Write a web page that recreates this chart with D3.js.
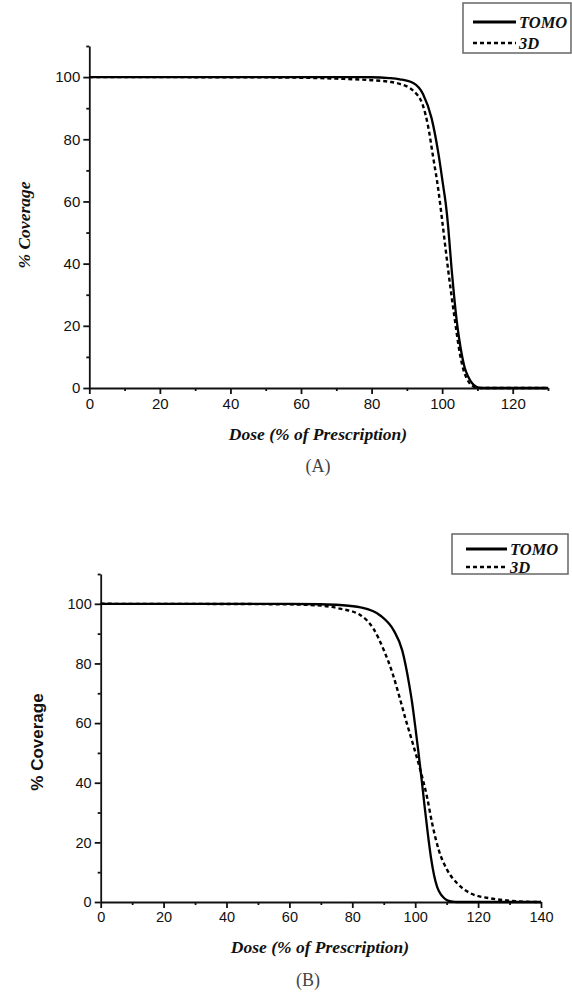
<!DOCTYPE html>
<html>
<head>
<meta charset="utf-8">
<script src="https://cdn.jsdelivr.net/npm/d3@7"></script>
<style>
  body { margin: 0; background: #fff; }
  svg { display: block; }
  .tick text { font-family: "Liberation Sans", Arial, sans-serif; fill: #111; }
</style>
</head>
<body>
<svg id="chart" width="572" height="994"></svg>
<script>
'use strict';

// Panel A: DVH curves, [dose %, coverage %]
const tomoA = [[0,100],[40,100],[80,99.95],[85,99.7],[88,99.3],[91.8,98.1],[94.6,94.5],[97,86.8],
  [98.9,75.7],[100.3,65],[101,59.5],[101.7,52],[102.2,45],[102.7,38],[103.4,29.5],[104.1,21.9],
  [104.8,16],[105.5,11.2],[106.4,6.5],[107.4,3.6],[108.5,1.5],[109.7,0.4],[111,0],[130,0]];
const threeDA = [[0,100],[40,99.95],[60,99.8],[70,99.5],[80,99],[85,98.5],[88,97.8],[91.8,95.6],
  [94.6,90.7],[96,84.3],[97.4,74.6],[98.9,63.9],[100.1,53],[101.7,38],[103.6,21.9],[105,11.2],
  [106,6],[107,3],[108,1.2],[109,0.4],[110,0.1],[111,0],[130,0]];

// Panel B
const tomoB = [[0,100],[60,99.95],[70,99.85],[76,99.6],[82.6,98.8],[89,96],[93.2,91],[95.9,84.3],
  [98,73.5],[99,67],[100,59],[101,50.5],[102,41.5],[103,32],[104,23],[105,15],[106,9],[107,5],
  [108,2.8],[109,1.5],[110,0.7],[111,0.3],[112,0.1],[113,0],[140,0]];
const threeDB = [[0,100],[40,99.95],[60,99.8],[70,99.4],[76,98.4],[82.6,96.2],[86.8,91.5],[90,84.5],
  [92.7,77],[94.8,69.5],[96.9,61.5],[99,54],[101.7,44],[103.8,35],[105.4,26.3],[107.5,17.4],
  [110.2,10.7],[113.4,6.2],[117.6,2.9],[124,1.2],[129.3,0.5],[135,0.1],[140,0]];

const yMajor = [0, 20, 40, 60, 80, 100];
const yMinor = [10, 30, 50, 70, 90, 110];
const xMajorA = [0, 20, 40, 60, 80, 100, 120];
const xMinorA = [10, 30, 50, 70, 90, 110, 130];
const xMajorB = [0, 20, 40, 60, 80, 100, 120, 140];
const xMinorB = [10, 30, 50, 70, 90, 110, 130];

const seriesNames = ["TOMO", "3D"];

const svg = d3.select("#chart");
const serif = "'Liberation Serif', 'Times New Roman', serif";
const sans = "'Liberation Sans', Arial, sans-serif";

function panel(cfg) {
    const g = svg.append("g");
    const x = d3.scaleLinear().domain([0, cfg.xMax]).range([cfg.left, cfg.right]);
    const y = d3.scaleLinear().domain([0, 110]).range([cfg.bottom, cfg.top]);

    // minor ticks first
    g.append("g").attr("transform", `translate(0,${cfg.bottom})`)
        .call(d3.axisBottom(x).tickValues(cfg.xMinor).tickSize(3).tickFormat(""))
        .call(a => a.select(".domain").remove())
        .call(a => a.selectAll("line").attr("stroke", "#111").attr("stroke-width", 1.5));
    g.append("g").attr("transform", `translate(${cfg.left},0)`)
        .call(d3.axisLeft(y).tickValues(yMinor).tickSize(3).tickFormat(""))
        .call(a => a.select(".domain").remove())
        .call(a => a.selectAll("line").attr("stroke", "#111").attr("stroke-width", 1.5));

    const xa = g.append("g").attr("transform", `translate(0,${cfg.bottom})`)
        .call(d3.axisBottom(x).tickValues(cfg.xMajor).tickSize(6).tickSizeOuter(0).tickPadding(4));
    xa.selectAll("text").style("font-size", cfg.tickFont + "px");
    const ya = g.append("g").attr("transform", `translate(${cfg.left},0)`)
        .call(d3.axisLeft(y).tickValues(yMajor).tickSize(6).tickSizeOuter(0).tickPadding(3));
    ya.selectAll("text").style("font-size", cfg.tickFont + "px");
    g.selectAll(".domain, .tick line").attr("stroke", "#111").attr("stroke-width", 1.8);

    const line = d3.line().x(d => x(d[0])).y(d => y(d[1])).curve(d3.curveMonotoneX);
    g.append("path").datum(cfg.tomo).attr("d", line)
        .attr("fill", "none").attr("stroke", "#000").attr("stroke-width", 2.3);
    g.append("path").datum(cfg.threeD).attr("d", line)
        .attr("fill", "none").attr("stroke", "#000").attr("stroke-width", 2.4)
        .attr("stroke-dasharray", "4,3");

    // axis titles
    g.append("text")
        .attr("transform", `translate(${cfg.yLabelX},${cfg.yLabelY}) rotate(-90)`)
        .attr("text-anchor", "middle")
        .style("font-family", cfg.yLabelSerif ? serif : sans)
        .style("font-weight", "bold")
        .style("font-style", cfg.yLabelSerif ? "italic" : "normal")
        .style("font-size", cfg.yLabelSerif ? "17.5px" : "17px")
        .attr("fill", "#111")
        .text("% Coverage");
    g.append("text")
        .attr("x", cfg.xLabelX).attr("y", cfg.xLabelY)
        .attr("text-anchor", "middle")
        .style("font-family", serif)
        .style("font-weight", "bold").style("font-style", "italic").style("font-size", "17.5px")
        .attr("fill", "#111")
        .text("Dose (% of Prescription)");
    g.append("text")
        .attr("x", cfg.capX).attr("y", cfg.capY)
        .attr("text-anchor", "middle")
        .style("font-family", serif)
        .style("font-size", "18px")
        .attr("fill", "#444")
        .text(cfg.caption);

    // legend
    const L = cfg.legend;
    g.append("rect").attr("x", L.x).attr("y", L.y).attr("width", L.w).attr("height", L.h)
        .attr("fill", "#fff").attr("stroke", "#666").attr("stroke-width", 1.5);
    seriesNames.forEach((name, i) => {
        const ly = L.rows[i];
        g.append("line").attr("x1", L.x1).attr("x2", L.x2).attr("y1", ly).attr("y2", ly)
            .attr("stroke", "#000").attr("stroke-width", i == 0 ? 2.8 : 2.4)
            .attr("stroke-dasharray", i == 0 ? null : "4,3");
        g.append("text").attr("x", L.x2 + 3).attr("y", ly + 5.5)
            .style("font-family", serif)
            .style("font-weight", "bold").style("font-style", "italic").style("font-size", "16.5px")
            .attr("fill", "#111")
            .text(name);
    });
}

panel({
    left: 89.3, right: 548, top: 46, bottom: 388, xMax: 130,
    xMajor: xMajorA, xMinor: xMinorA, tickFont: 15,
    tomo: tomoA, threeD: threeDA,
    yLabelX: 30, yLabelY: 225, yLabelSerif: true,
    xLabelX: 318, xLabelY: 440,
    capX: 318, capY: 472, caption: "(A)",
    legend: { x: 463, y: 3, w: 108, h: 50, x1: 473, x2: 516, rows: [22, 43] }
});

panel({
    left: 100.7, right: 541, top: 574, bottom: 902, xMax: 140,
    xMajor: xMajorB, xMinor: xMinorB, tickFont: 14.5,
    tomo: tomoB, threeD: threeDB,
    yLabelX: 43, yLabelY: 742, yLabelSerif: false,
    xLabelX: 320, xLabelY: 953,
    capX: 308, capY: 986, caption: "(B)",
    legend: { x: 452, y: 534, w: 116, h: 40, x1: 466, x2: 507, rows: [549, 567] }
});
</script>
</body>
</html>
